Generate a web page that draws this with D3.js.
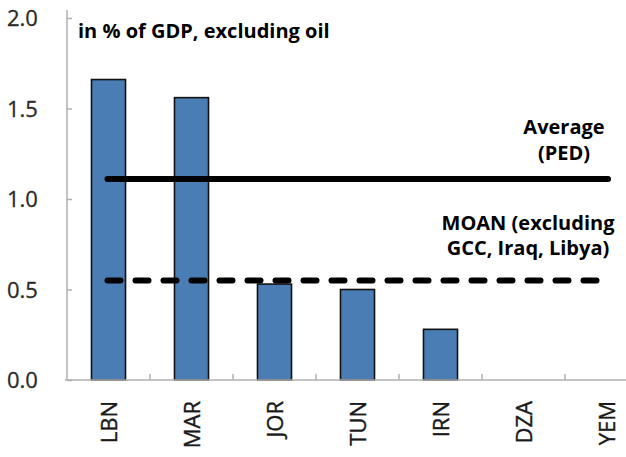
<!DOCTYPE html>
<html><head><meta charset="utf-8">
<script src="https://cdn.jsdelivr.net/npm/d3@7"></script>
<style>body{margin:0;background:#fff}svg{display:block}</style>
</head><body>
<svg id="c" width="626" height="457"></svg>
<script>
const categories = ["LBN","MAR","JOR","TUN","IRN","DZA","YEM"];
const values = [1.66, 1.56, 0.53, 0.50, 0.28, 0, 0];
const yTicks = [0, 0.5, 1.0, 1.5, 2.0];
const refLines = [
  {name:"Average (PED)", value:1.11, dashed:false, label:["Average","(PED)"]},
  {name:"MOAN", value:0.55, dashed:true, label:["MOAN (excluding","GCC, Iraq, Libya)"]}
];
const subtitle = "in % of GDP, excluding oil";

const svg = d3.select("#c");
const x0 = 67, yBase = 380;
const x = d3.scaleBand().domain(categories).range([x0, x0 + 83*7]).paddingInner(0.59).paddingOuter(0.295);
const y = d3.scaleLinear().domain([0, 2]).range([yBase, 18]);
const font = "'Open Sans', 'Noto Sans', sans-serif";

// bars
svg.selectAll("rect.bar").data(categories.map((c,i)=>({c, v:values[i]})).filter(d=>d.v>0))
  .enter().append("rect").attr("class","bar")
  .attr("x", d=>x(d.c)).attr("width", x.bandwidth())
  .attr("y", d=>y(d.v)).attr("height", d=>yBase - y(d.v))
  .attr("fill","#4a7db3").attr("stroke","#111").attr("stroke-width",1.6);

// y axis
const yAxis = svg.append("g").attr("transform",`translate(${x0},0)`)
  .call(d3.axisRight(y).tickValues(yTicks).tickSize(5).tickFormat(""));
yAxis.select(".domain").attr("stroke","#b0b0b0").attr("stroke-width",1.5).attr("d",`M0,${yBase}V10`);
yAxis.selectAll(".tick line").attr("stroke","#b0b0b0").attr("stroke-width",1.5);
svg.append("g").selectAll("text").data(yTicks).enter().append("text")
  .attr("x", 7).attr("y", d=>y(d)+8)
  .attr("font-family", font).attr("font-size", 22).attr("fill","#2a2a2a")
  .attr("stroke","#2a2a2a").attr("stroke-width",0.3)
  .text(d=>d3.format(".1f")(d));

// x axis
const xAxisG = svg.append("g").attr("transform",`translate(0,${yBase})`);
xAxisG.append("line").attr("x1",65).attr("x2",626).attr("y1",0).attr("y2",0)
  .attr("stroke","#b0b0b0").attr("stroke-width",1.5);
const step = x.step();
xAxisG.selectAll("line.tk").data(categories.slice(0,-1)).enter().append("line").attr("class","tk")
  .attr("x1", d=>x(d)+x.bandwidth()/2+step/2).attr("x2", d=>x(d)+x.bandwidth()/2+step/2)
  .attr("y1",0).attr("y2",-6).attr("stroke","#b0b0b0").attr("stroke-width",1.5);
xAxisG.selectAll("text").data(categories).enter().append("text")
  .attr("transform", d=>`translate(${x(d)+x.bandwidth()/2+8},21) rotate(-90)`)
  .attr("text-anchor","end")
  .attr("font-family", font).attr("font-size", 22).attr("fill","#1a1a1a")
  .attr("stroke","#1a1a1a").attr("stroke-width",0.4)
  .text(d=>d);

// reference lines
const lx1 = x(categories[0]) + x.bandwidth()/2 - 1, lx2 = 608;
refLines.forEach(r=>{
  svg.append("line").attr("x1",lx1).attr("x2",lx2).attr("y1",y(r.value)).attr("y2",y(r.value))
    .attr("stroke","#000").attr("stroke-width",6).attr("stroke-linecap","round")
    .attr("stroke-dasharray", r.dashed ? "13,15" : null);
});
// labels
svg.append("text").attr("x",78).attr("y",38).attr("font-family",font).attr("font-weight","bold")
  .attr("font-size",20).attr("fill","#000").text(subtitle);
const labPos = [{cx:564, y:[134,160]},{cx:528, y:[230,255]}];
refLines.forEach((r,i)=>{
  r.label.forEach((t,j)=>{
    svg.append("text").attr("x",labPos[i].cx).attr("y",labPos[i].y[j]).attr("text-anchor","middle")
      .attr("font-family",font).attr("font-weight","bold").attr("font-size",20).attr("fill","#000").text(t);
  });
});
</script>
</body></html>
